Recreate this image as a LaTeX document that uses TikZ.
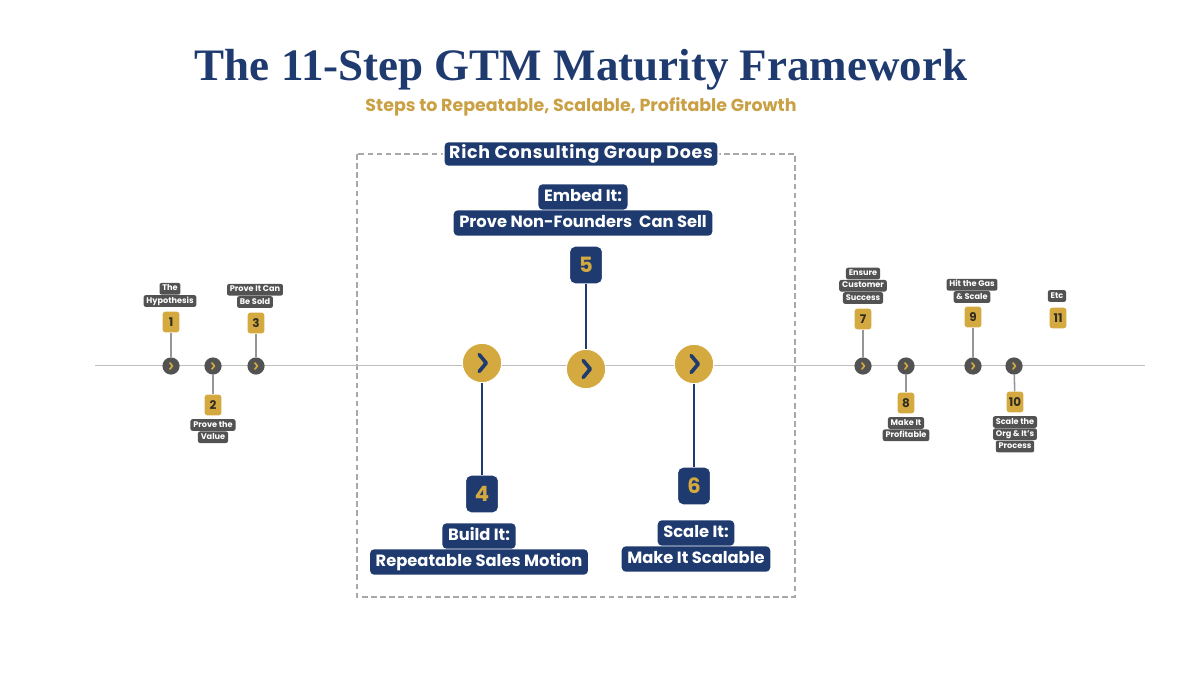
\documentclass[tikz,border=0pt]{standalone}
\usepackage{fontspec}
\setmainfont{Poppins}
\newfontfamily\titlefont{Liberation Serif}
\usetikzlibrary{positioning, calc}
\definecolor{navy}{RGB}{30,58,110}
\definecolor{gold}{RGB}{212,170,64}
\definecolor{subgold}{RGB}{201,160,68}
\definecolor{darkgray}{RGB}{82,82,82}
\definecolor{linegray}{RGB}{190,190,190}
\definecolor{stemgray}{RGB}{150,150,150}
\definecolor{framegray}{RGB}{168,168,168}
\definecolor{numtext}{RGB}{50,45,35}
\tikzset{
    tagsmall/.style={rectangle, rounded corners=1.5pt, fill=darkgray, text=white, inner xsep=2pt, inner ysep=1.3pt, text height=4.4pt, text depth=1.3pt, font=\bfseries\fontsize{5.8}{6}\selectfont},
    tagbig/.style={rectangle, rounded corners=3pt, fill=navy, text=white, inner xsep=4pt, inner ysep=3.2pt, text height=9pt, text depth=2.7pt, font=\bfseries\fontsize{11.6}{13}\selectfont},
    numsmall/.style={rectangle, rounded corners=2pt, fill=gold, text=numtext, minimum width=0.42cm, minimum height=0.52cm, inner sep=1pt, font=\bfseries\fontsize{8.5}{9}\selectfont},
    numbig/.style={rectangle, rounded corners=4pt, fill=navy, text=gold, draw=white, line width=0.6pt, minimum width=0.82cm, minimum height=0.94cm, font=\bfseries\fontsize{15}{16}\selectfont},
    dotsmall/.style={circle, fill=darkgray, minimum size=0.43cm, inner sep=0pt},
    dotbig/.style={circle, fill=gold, draw=white, line width=0.6pt, minimum size=0.98cm, inner sep=0pt},
    linksmall/.style={draw=stemgray, line width=1.1pt},
    linkbig/.style={draw=navy, line width=2pt},
    chevsmall/.style={draw=gold, line width=1.2pt, line cap=round, line join=round},
    chevbig/.style={draw=navy, line width=2.6pt, line cap=round, line join=round}
}
\begin{document}
\begin{tikzpicture}[x=0.025cm, y=-0.025cm]
    \useasboundingbox (0,0) rectangle (1200,675);

    % Title
    \node (title) at (581,70) [text=navy, font=\titlefont\bfseries\fontsize{32}{36}\selectfont] {The 11-Step GTM Maturity Framework};
    \node (subtitle) at (581,107) [text=subgold, font=\bfseries\fontsize{12.4}{14}\selectfont] {Steps to Repeatable, Scalable, Profitable Growth};

    % Consulting frame
    \draw[framegray, line width=1.3pt, dash pattern=on 4pt off 2.5pt] (357,154) rectangle (795,597);
    \node (header) at (581,154) [tagbig, draw=white, line width=1.5pt, font=\bfseries\fontsize{12.4}{14}\selectfont\addfontfeatures{LetterSpace=4}] {Rich Consulting Group Does};

    % Timeline
    \coordinate (tlstart) at (95,365.5);
    \coordinate (tlend) at (1145,365.5);
    \draw[linegray, line width=1.1pt] (tlstart) -- (tlend);

    % Left steps 1-3
    \node (c1) [dotsmall] at (171,366) {};
    \node (c2) [dotsmall] at (213,366) {};
    \node (c3) [dotsmall] at (256,366) {};
    \node (n1) [numsmall] at (171,322) {1};
    \node (n2) [numsmall] at (213,405) {2};
    \node (n3) [numsmall] at (256,323) {3};
    \node (l1b) [tagsmall] at (170,301) {Hypothesis};
    \node (l1a) [tagsmall, above=0pt of l1b] {The};
    \node (l2a) [tagsmall] at (213,425) {Prove the};
    \node (l2b) [tagsmall, below=0pt of l2a] {Value};
    \node (l3b) [tagsmall] at (255,302) {Be Sold};
    \node (l3a) [tagsmall, above=0pt of l3b] {Prove It Can};

    % Middle steps 4-6
    \node (c4) [dotbig] at (482,363) {};
    \node (c5) [dotbig] at (586,369) {};
    \node (c6) [dotbig] at (694,364) {};
    \node (n4) [numbig] at (482,494) {4};
    \node (n5) [numbig] at (586,265) {5};
    \node (n6) [numbig] at (694,486) {6};
    \node (l4a) [tagbig] at (479,536) {Build It:};
    \node (l4b) [tagbig, below=0pt of l4a] {Repeatable Sales Motion};
    \node (l5b) [tagbig] at (583,223) {Prove Non-Founders\ \ Can Sell};
    \node (l5a) [tagbig, above=0pt of l5b] {Embed It:};
    \node (l6a) [tagbig] at (696,533) {Scale It:};
    \node (l6b) [tagbig, below=0pt of l6a] {Make It Scalable};

    % Right steps 7-11
    \node (c7) [dotsmall] at (863,366) {};
    \node (c8) [dotsmall] at (906,366) {};
    \node (c9) [dotsmall] at (973,366) {};
    \node (c10) [dotsmall] at (1014,366) {};
    \node (n7) [numsmall] at (863,319) {7};
    \node (n8) [numsmall] at (906,403) {8};
    \node (n9) [numsmall] at (973,317) {9};
    \node (n10) [numsmall] at (1015,402) {10};
    \node (n11) [numsmall] at (1058,318) {11};
    \node (l7c) [tagsmall] at (863,298) {Success};
    \node (l7b) [tagsmall, above=0pt of l7c] {Customer};
    \node (l7a) [tagsmall, above=0pt of l7b] {Ensure};
    \node (l8a) [tagsmall] at (906,423) {Make It};
    \node (l8b) [tagsmall, below=0pt of l8a] {Profitable};
    \node (l9b) [tagsmall] at (972,297) {\& Scale};
    \node (l9a) [tagsmall, above=0pt of l9b] {Hit the Gas};
    \node (l10a) [tagsmall] at (1015,422) {Scale the};
    \node (l10b) [tagsmall, below=0pt of l10a] {Org \& It's};
    \node (l10c) [tagsmall, below=0pt of l10b] {Process};
    \node (l11) [tagsmall] at (1057,296) {Etc};

    % Stems
    \draw[linksmall] (c1) -- (n1);
    \draw[linksmall] (c2) -- (n2);
    \draw[linksmall] (c3) -- (n3);
    \draw[linksmall] (c7) -- (n7);
    \draw[linksmall] (c8) -- (n8);
    \draw[linksmall] (c9) -- (n9);
    \draw[linksmall] (c10) -- (n10);
    \draw[linkbig] (c4) -- (n4);
    \draw[linkbig] (n5) -- (c5);
    \draw[linkbig] (c6) -- (n6);

    % Chevrons
    \foreach \d in {c1,c2,c3,c7,c8,c9,c10}
        \draw[chevsmall] ([shift={(-0.8pt,2.2pt)}]\d.center) -- ++(1.8pt,-2.2pt) -- ++(-1.8pt,-2.2pt);
    \foreach \d in {c4,c5,c6}
        \draw[chevbig] ([shift={(-2pt,6pt)}]\d.center) -- ++(5pt,-6pt) -- ++(-5pt,-6pt);
\end{tikzpicture}
\end{document}
